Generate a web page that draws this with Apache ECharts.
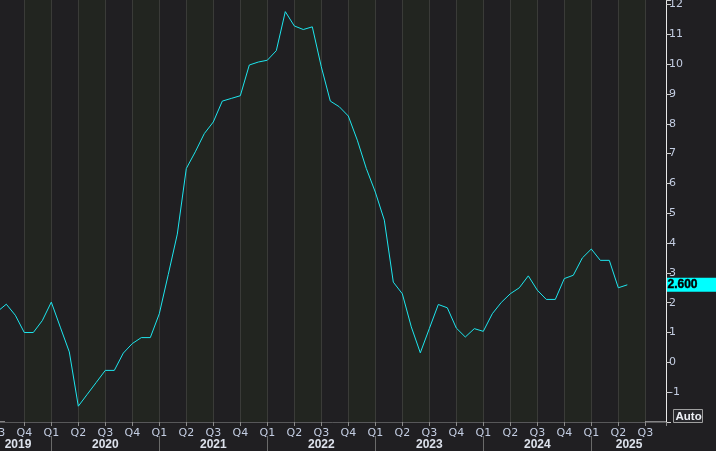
<!DOCTYPE html>
<html><head><meta charset="utf-8">
<script src="https://cdn.jsdelivr.net/npm/echarts@6/dist/echarts.min.js"></script>
<style>html,body{margin:0;padding:0;background:#201f22}#c{width:716px;height:451px}</style>
</head><body><div id="c"></div>
<script>
// Monthly values, first value = Jul 2019, last = May 2025
const firstYear = 2019, firstMonth = 7;
const values2019 = [1.7, 1.95, 1.58, 1.0, 1.0, 1.4];
const values2020 = [2.02, 1.18, 0.35, -1.47, -1.07, -0.67, -0.27, -0.27, 0.31, 0.63, 0.83, 0.83];
const values2021 = [1.63, 2.95, 4.3, 6.5, 7.06, 7.67, 8.06, 8.76, 8.85, 8.94, 9.97, 10.07];
const values2022 = [10.13, 10.45, 11.76, 11.28, 11.16, 11.25, 9.91, 8.76, 8.57, 8.26, 7.45, 6.5];
const values2023 = [5.71, 4.77, 2.69, 2.3, 1.19, 0.32, 1.13, 1.94, 1.83, 1.15, 0.85, 1.13];
const values2024 = [1.04, 1.63, 2.01, 2.3, 2.5, 2.9, 2.42, 2.11, 2.11, 2.81, 2.92, 3.5];
const values2025 = [3.8, 3.42, 3.42, 2.5, 2.6];
const years = [2019, 2020, 2021, 2022, 2023, 2024, 2025];
const quarterNames = ['Q1', 'Q2', 'Q3', 'Q4'];
const yMin = -2, yMax = 12.15, yStep = 1;
const baseYear = 2020;            // month index 0 = Jan 2020
const xMin = -6, xMax = 68.3;     // axis extent in months
const visibleStart = -5.7, axisEnd = 66;

const allValues = [].concat(values2019, values2020, values2021, values2022, values2023, values2024, values2025);
const startIdx = (firstYear - baseYear) * 12 + (firstMonth - 1);
const seriesData = allValues.map((v, i) => [startIdx + i, v]);
const lastValue = allValues[allValues.length - 1];

const yearTicks = years.filter(y => y > firstYear).map(y => (y - baseYear) * 12);
const yearLabelPos = years.map(y => {
  const mid = (y - baseYear) * 12 + 6;
  return Math.min(Math.max(mid, visibleStart + 2.0), axisEnd - 1.8);
});

const chart = echarts.init(document.getElementById('c'), null, {renderer: 'canvas'});
const labelColor = '#c3cde2';
const staticGraphics = [
  {type: 'line', shape: {x1: 645, y1: 422, x2: 666, y2: 422}, style: {stroke: '#e8e8e8', lineWidth: 1}},
  {type: 'line', shape: {x1: 0, y1: 422, x2: 5, y2: 422}, style: {stroke: '#e8e8e8', lineWidth: 1}},
  {type: 'group', left: 673, top: 409, children: [
    {type: 'rect', shape: {x: 0, y: 0, width: 29, height: 13}, style: {fill: '#28282c', stroke: '#a0a0a0', lineWidth: 1}},
    {type: 'text', x: 2, y: 1, style: {text: 'Auto', fill: '#eef0f6', font: 'bold 11.5px "Liberation Sans"'}}
  ]}
];
chart.setOption({
  animation: false,
  backgroundColor: '#201f22',
  grid: {left: -2.7, right: 50, top: 0, bottom: 29, containLabel: false, outerBoundsMode: 'none'},
  xAxis: [{
    type: 'value', min: xMin, max: xMax, interval: 3,
    axisLine: {show: true, onZero: false, lineStyle: {color: '#58585a', width: 1}},
    axisTick: {show: true, length: 4, lineStyle: {color: '#8a8a8a'}},
    axisLabel: {
      color: labelColor, fontFamily: 'DejaVu Sans', fontSize: 11, margin: 6, hideOverlap: false,
      formatter: v => {
        const r = Math.round(v);
        if (Math.abs(v - r) > 1e-6 || r % 3 !== 0) return '';
        const m = ((r % 12) + 12) % 12;
        return quarterNames[m / 3];
      }
    },
    splitLine: {show: true, lineStyle: {color: '#3a3b38', width: 1}},
    splitArea: {show: true, areaStyle: {color: ['#201f22', '#222520']}}
  }, {
    type: 'value', min: xMin, max: xMax, position: 'bottom', offset: 14,
    axisLine: {show: false, onZero: false},
    axisTick: {show: true, customValues: yearTicks, length: 15, lineStyle: {color: '#6a6a6a'}},
    axisLabel: {
      customValues: yearLabelPos, color: '#dde2ec', fontFamily: 'Liberation Sans',
      fontWeight: 'bold', fontSize: 12, margin: 3,
      formatter: v => String(baseYear + Math.floor(v / 12))
    },
    splitLine: {show: false}
  }],
  yAxis: {
    type: 'value', position: 'right', min: yMin, max: yMax, interval: yStep,
    axisLine: {show: true, onZero: false, lineStyle: {color: '#e8e8e8', width: 1}},
    axisTick: {show: true, length: 5, lineStyle: {color: '#d0d0d0'}},
    axisLabel: {
      color: labelColor, fontFamily: 'DejaVu Sans', fontSize: 11, margin: 3,
      formatter: v => (Number.isInteger(v) && v > yMin) ? String(v) : ''
    },
    splitLine: {show: true, lineStyle: {color: '#3b3c3a', width: 1}}
  },
  series: [{
    type: 'line', data: seriesData, showSymbol: false, symbol: 'none',
    lineStyle: {color: '#1ee6ee', width: 1}, clip: true
  }],
  graphic: staticGraphics
});
// Last-value tag placed through the chart's own scales
const pt = chart.convertToPixel({seriesIndex: 0}, [xMax, lastValue]);
chart.setOption({
  graphic: staticGraphics.concat([
    {type: 'group', x: pt[0], y: pt[1], z: 100, children: [
      {type: 'rect', shape: {x: 0.5, y: -7, width: 50, height: 14}, style: {fill: '#00ffff'}},
      {type: 'text', x: 1.5, y: 0, z: 101, style: {text: lastValue.toFixed(3), fill: '#000000',
        stroke: '#000000', lineWidth: 0.4, opacity: 1,
        font: 'bold 12px "Liberation Sans"', verticalAlign: 'middle'}}
    ]}
  ])
}, {replaceMerge: ['graphic']});
</script></body></html>
